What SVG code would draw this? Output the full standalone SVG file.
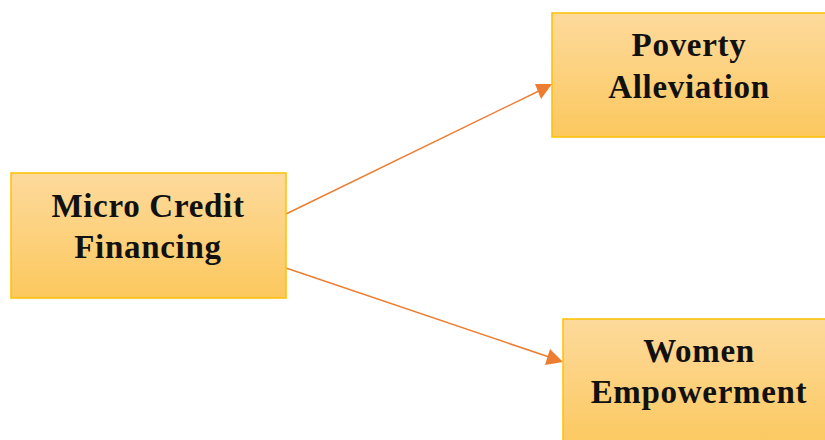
<svg xmlns="http://www.w3.org/2000/svg" width="825" height="440" viewBox="0 0 825 440">
<style>
.box{fill:url(#g);stroke:#ffc000;stroke-width:1.5}
.t{font-family:"Liberation Serif","Times New Roman",serif;font-weight:bold;font-size:33px;letter-spacing:0.7px;fill:#111;text-anchor:middle}
.c{stroke:#ed7d31;stroke-width:1.5;fill:none}
.h{fill:#ed7d31}
</style>
<defs>
<linearGradient id="g" x1="0" y1="0" x2="0" y2="1">
<stop offset="0" stop-color="#fdda9c"/>
<stop offset="1" stop-color="#fcc85e"/>
</linearGradient>
</defs>
<rect width="825" height="440" fill="#fff"/>
<g id="connectors">
<line class="c" x1="286" y1="214" x2="545" y2="88"/>
<path class="h" d="M552,84 L535,84 L541,99 Z"/>
<line class="c" x1="286" y1="268" x2="555" y2="359"/>
<path class="h" d="M563,362 L545,365 L550,349 Z"/>
</g>
<g id="micro">
<rect class="box" x="11" y="173" width="275" height="125"/>
<text class="t" x="148" y="217">Micro Credit</text>
<text class="t" x="148" y="258">Financing</text>
</g>
<g id="poverty">
<rect class="box" x="552" y="13" width="280" height="124"/>
<text class="t" x="689" y="56">Poverty</text>
<text class="t" x="689" y="98">Alleviation</text>
</g>
<g id="women">
<rect class="box" x="563" y="319" width="280" height="130"/>
<text class="t" x="699" y="362">Women</text>
<text class="t" x="699" y="403">Empowerment</text>
</g>
</svg>
